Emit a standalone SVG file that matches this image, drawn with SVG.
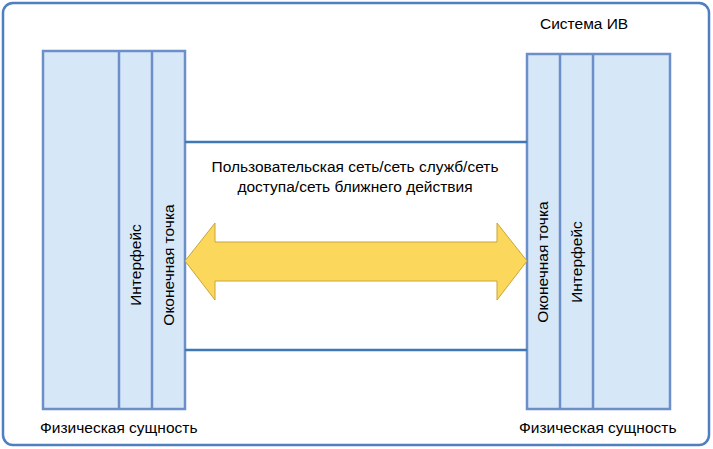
<svg xmlns="http://www.w3.org/2000/svg" width="713" height="449" viewBox="0 0 713 449">
<style>
.b{fill:#d6e7f7;stroke:#6c8ec9;stroke-width:2.5}
.l{stroke:#3f78b5;stroke-width:2.5;fill:none}
text{font-family:"Liberation Sans",Arial,sans-serif;font-size:15.5px;fill:#000}
</style>
<rect x="3" y="3" width="706" height="442" rx="10" fill="#fff" stroke="#4f7fc0" stroke-width="2.5"/>
<text x="540" y="29" font-size="19.5">Система ИВ</text>
<g id="left">
<rect class="b" x="43" y="51" width="142" height="358"/>
<line class="b" x1="119" y1="51" x2="119" y2="409"/>
<line class="b" x1="152" y1="51" x2="152" y2="409"/>
<text transform="translate(141,265) rotate(-90)" text-anchor="middle">Интерфейс</text>
<text transform="translate(174,265) rotate(-90)" text-anchor="middle">Оконечная точка</text>
<text x="40" y="433" font-size="16.4">Физическая сущность</text>
</g>
<g id="right">
<rect class="b" x="527" y="54" width="143" height="355"/>
<line class="b" x1="560" y1="54" x2="560" y2="409"/>
<line class="b" x1="593" y1="54" x2="593" y2="409"/>
<text transform="translate(548,262) rotate(-90)" text-anchor="middle">Оконечная точка</text>
<text transform="translate(582,262) rotate(-90)" text-anchor="middle">Интерфейс</text>
<text x="519" y="433" font-size="16.4">Физическая сущность</text>
</g>
<g id="connectors">
<line class="l" x1="185" y1="142" x2="527" y2="142"/>
<line class="l" x1="185" y1="350" x2="527" y2="350"/>
<polygon points="185,261 215,223 215,242 497,242 497,223 527,261 497,300 497,281 215,281 215,300" fill="#fbd75b" stroke="#c9a53a" stroke-width="1"/>
</g>
<text x="355" y="172" text-anchor="middle">Пользовательская сеть/сеть служб/сеть</text>
<text x="355" y="192" text-anchor="middle">доступа/сеть ближнего действия</text>
</svg>
